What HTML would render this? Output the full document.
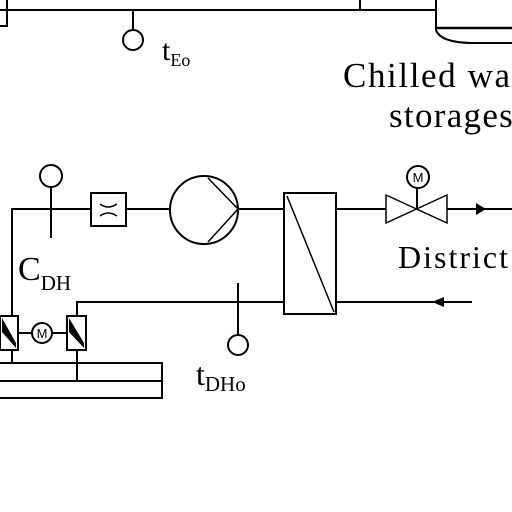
<!DOCTYPE html>
<html><head><style>
html,body{margin:0;padding:0;background:#fff;width:512px;height:512px;overflow:hidden}
text{font-family:"Liberation Serif",serif;fill:#000}
text.m{font-family:"Liberation Sans",sans-serif}
</style></head><body>
<svg width="512" height="512" viewBox="0 0 512 512" xmlns="http://www.w3.org/2000/svg">
<g stroke="#000" stroke-width="2" fill="none">
<path d="M0 26 H7 V0"/>
<path d="M0 10 H436"/>
<path d="M360 0 V10"/>
<path d="M133 10 V30"/>
<circle cx="133" cy="40" r="10"/>
<path d="M436 0 V30 Q440 42 470 43 H512"/>
<path d="M436 28 H512" stroke-width="2.5"/>
<path d="M12 316 V209 H91"/>
<path d="M51 188 V238"/>
<circle cx="51" cy="176" r="11"/>
<rect x="91" y="193" width="35" height="33"/>
<path d="M100 204 Q108 210 117 204 M100 216 Q108 210 117 216" stroke-width="1.5"/>
<path d="M126 209 H170"/>
<circle cx="204" cy="210" r="34"/>
<path d="M208 178 L238 209 L208 242" stroke-width="1.5"/>
<path d="M238 209 H284"/>
<rect x="284" y="193" width="52" height="121"/>
<path d="M287 196 L334 312" stroke-width="1.5"/>
<path d="M336 209 H386"/>
<path d="M386 195 L447 223 V195 L386 223 Z" stroke-width="1.5"/>
<path d="M417 209 V188"/>
<circle cx="418" cy="177" r="11"/>
<path d="M447 209 H512"/>
<path d="M77 316 V302 H284"/>
<path d="M336 302 H472"/>
<path d="M238 283 V335"/>
<circle cx="238" cy="345" r="10"/>
<rect x="0" y="316" width="18" height="34"/>
<rect x="67" y="316" width="19" height="34"/>
<path d="M18 333 H32 M52 333 H67"/>
<circle cx="42" cy="333" r="10"/>
<path d="M12 350 V363 M77 350 V381"/>
<path d="M0 363 H162 V398 H0 M0 381 H162"/>
</g>
<path d="M2 318 L16 343 L16 348 L2 332 Z" fill="#000"/>
<path d="M69 318 L84 343 L84 348 L69 332 Z" fill="#000"/>
<path d="M476 203 L486 209 L476 215 Z" fill="#000"/>
<path d="M444 297 L432 302 L444 307 Z" fill="#000"/>
<text class="m" x="42" y="338" font-size="13" text-anchor="middle">M</text>
<text class="m" x="418" y="182" font-size="13" text-anchor="middle">M</text>
<text x="162" y="60" font-size="30">t<tspan font-size="18" dy="6">Eo</tspan></text>
<text x="343" y="87" font-size="35" letter-spacing="1.6">Chilled wa</text>
<text x="389" y="127" font-size="35" letter-spacing="1.3">storages</text>
<text x="398" y="268" font-size="32" letter-spacing="2">District</text>
<text x="18" y="280" font-size="34">C<tspan font-size="21" dy="10">DH</tspan></text>
<text x="196" y="385" font-size="32">t<tspan font-size="21" dy="6">DHo</tspan></text>
</svg>
</body></html>
